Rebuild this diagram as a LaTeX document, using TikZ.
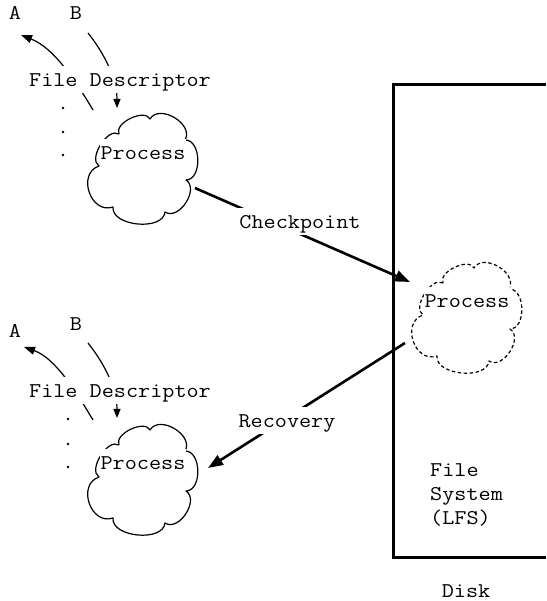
\documentclass[tikz,border=0pt]{standalone}
\usepackage{fontspec}
\newfontfamily\cour{Latin Modern Mono}[FakeStretch=1.12]
\usetikzlibrary{arrows.meta,calc}
\tikzset{
  lbl/.style={font=\cour\fontsize{21}{24.5}\selectfont, inner sep=0pt},
  wlbl/.style={lbl, fill=white, text height=19pt, text depth=4pt, inner xsep=1pt, inner ysep=2pt},
  thinln/.style={line width=1.2pt},
  thickln/.style={line width=2.6pt},
  tipA/.style={-{Triangle[length=11pt,width=8pt]}},
  tipB/.style={-{Triangle[length=9pt,width=7pt]}},
  tipbig/.style={-{Triangle[length=15pt,width=11pt]}},
  dot/.style={fill=black},
  cloudpic/.pic={
    \draw[line width=1.2pt, line join=round]
      (-24,19) to[bend right=90,looseness=0.9] (-44,-13)
      to[bend right=90,looseness=1.4] (-30,-54)
      to[bend right=90,looseness=0.95] (22,-59)
      to[bend right=90,looseness=1.1] (43,-27)
      to[bend right=90,looseness=1.05] (42,13)
      to[bend right=90,looseness=1.15] (7,34)
      to[bend right=90,looseness=0.9] (-24,19);
  }
}
\begin{document}
\begin{tikzpicture}[x=1pt,y=1pt]
\useasboundingbox (0,0) rectangle (546,601);

% cloud centres
\coordinate (c1) at (143,448);
\coordinate (c2) at (143,137);
\coordinate (c3) at (467,299);

% disk outline
\coordinate (dtr) at (546,516);
\coordinate (dtl) at (393,516);
\coordinate (dbl) at (393,43);
\coordinate (dbr) at (546,43);
\draw[line width=3pt] (dtr) -- (dtl) -- (dbl) -- (dbr);

% clouds
\pic at (c1) {cloudpic};
\pic at (c2) {cloudpic};
\pic[dash pattern=on 3.5pt off 2.5pt] at (c3) {cloudpic};

% labels A, B
\node[lbl, anchor=base] (A1) at (15,581) {A};
\node[lbl, anchor=base] (B1) at (76,581) {B};
\node[lbl, anchor=base] (A2) at (15,263) {A};
\node[lbl, anchor=base] (B2) at (76,270) {B};

% descriptor arrows (top)
\coordinate (a1s) at (93,491);
\coordinate (a1e) at (21,566);
\coordinate (b1s) at (88,568);
\coordinate (b1e) at (117,493);
\draw[thinln, tipA] (a1s) .. controls (75,521) and (54,553) .. (a1e);
\draw[thinln, tipB] (b1s) .. controls (100,553) and (117,526) .. (b1e);

% descriptor arrows (bottom)
\coordinate (a2s) at (93,181);
\coordinate (a2e) at (24,254);
\coordinate (b2s) at (88,258);
\coordinate (b2e) at (117,183);
\draw[thinln, tipA] (a2s) .. controls (75,211) and (55,243) .. (a2e);
\draw[thinln, tipB] (b2s) .. controls (100,243) and (117,216) .. (b2e);

% dots
\fill[dot] (63,493) circle (1.4);
\fill[dot] (63,469) circle (1.4);
\fill[dot] (63,446) circle (1.4);
\fill[dot] (68,182) circle (1.4);
\fill[dot] (68,157) circle (1.4);
\fill[dot] (68,134) circle (1.4);

% File Descriptor labels
\node[wlbl, anchor=base] (fd1) at (120,514) {File Descriptor};
\node[wlbl, anchor=base] (fd2) at (120,203) {File Descriptor};

% Process labels
\node[wlbl, anchor=base, inner xsep=0.5pt] (p1) at (143,441) {Process};
\node[wlbl, anchor=base, inner xsep=0.5pt] (p2) at (143,131) {Process};
\node[wlbl, anchor=base, inner xsep=0.5pt] (p3) at (467,293) {Process};

% checkpoint / recovery
\coordinate (p1out) at ($(c1)+(52,-35)$);
\coordinate (p3in) at ($(c3)+(-57,20)$);
\coordinate (p3out) at ($(c3)+(-62,-41)$);
\coordinate (p2in) at ($(c2)+(65,-4)$);
\draw[thickln, tipbig] (p1out) -- (p3in);
\draw[thickln, tipbig] (p3out) -- (p2in);
\node[wlbl, anchor=base] (ck) at (300,372) {Checkpoint};
\node[wlbl, anchor=base] (rc) at (287,173) {Recovery};

% file system and disk
\node[lbl, anchor=base west] (fs) at (430,124) {File};
\node[lbl, anchor=base west] (fs2) at (430,100) {System};
\node[lbl, anchor=base west] (fs3) at (430,76) {(LFS)};
\node[lbl, anchor=base] (disk) at (466,4) {Disk};
\end{tikzpicture}
\end{document}
